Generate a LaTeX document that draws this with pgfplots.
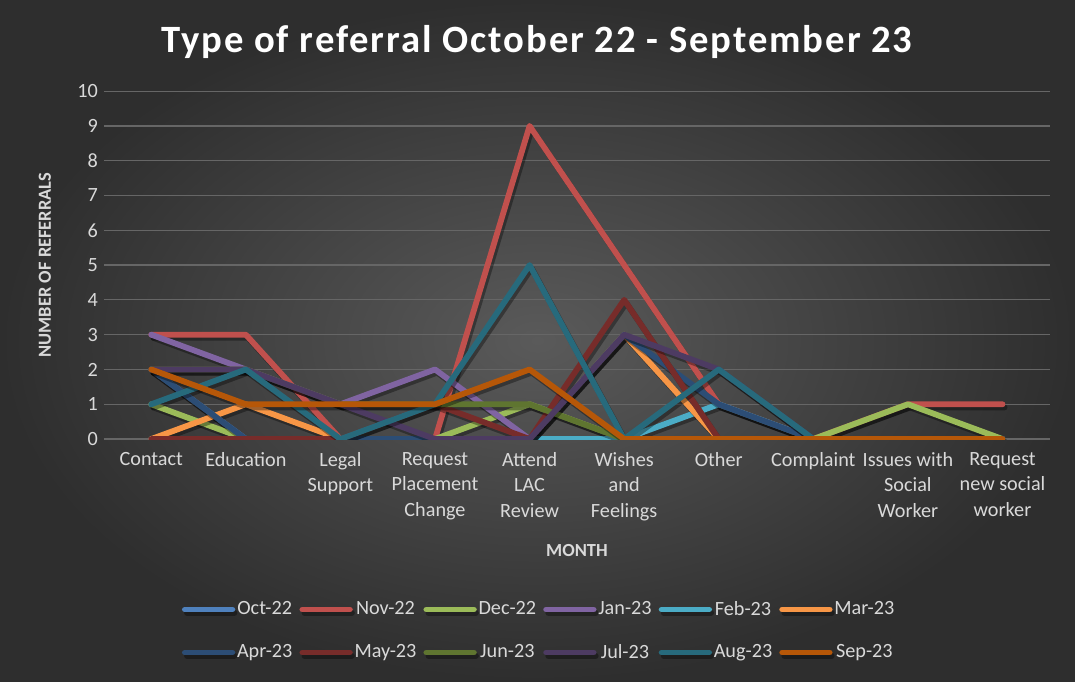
\documentclass[border=0pt]{standalone}
\usepackage{fontspec}
\setmainfont{Carlito}
\usepackage{pgfplots}
\usepackage{pgfplotstable}
\pgfplotsset{compat=1.18}

\definecolor{bgin}{HTML}{5A5A5A}
\definecolor{bgout}{HTML}{2E2E2E}
\definecolor{txt}{HTML}{D9D9D9}
\definecolor{gridc}{HTML}{666666}
\definecolor{c1}{HTML}{4F81BD}
\definecolor{c2}{HTML}{C0504D}
\definecolor{c3}{HTML}{9BBB59}
\definecolor{c4}{HTML}{8064A2}
\definecolor{c5}{HTML}{4BACC6}
\definecolor{c6}{HTML}{F79646}
\definecolor{c7}{HTML}{2C4D75}
\definecolor{c8}{HTML}{772C2A}
\definecolor{c9}{HTML}{5F7530}
\definecolor{c10}{HTML}{4D3B62}
\definecolor{c11}{HTML}{276A7C}
\definecolor{c12}{HTML}{B65708}

% one row per referral type, one column per month
\pgfplotstableread{
x oct nov dec jan feb mar apr may jun jul aug sep
0 2 3 1 3 0 0 2 0 2 2 1 2
1 0 3 0 2 0 1 0 0 2 2 2 1
2 0 0 0 1 0 0 0 0 1 1 0 1
3 0 0 0 2 0 0 0 1 1 0 1 1
4 0 9 1 0 0 0 0 0 1 0 5 2
5 0 5 0 0 0 3 3 4 0 3 0 0
6 0 1 0 0 1 0 1 0 0 2 2 0
7 0 0 0 0 0 0 0 0 0 0 0 0
8 0 1 1 0 0 0 0 0 0 0 0 0
9 0 1 0 0 0 0 0 0 0 0 0 0
}\data

\begin{document}
\begin{tikzpicture}[x=0.02cm,y=0.02cm]
\shade[inner color=bgin, outer color=bgout] (0,0) rectangle (1075,681);
\path[use as bounding box] (0,0) rectangle (1075,681);
\node[text=white, font=\fontsize{22}{26}\selectfont\bfseries\addfontfeatures{LetterSpace=5}] at (537,639) {Type of referral October 22 - September 23};
\node[text=txt, rotate=90, font=\fontsize{10.5}{12}\selectfont\bfseries] at (45,416) {NUMBER OF REFERRALS};
\node[text=txt, font=\fontsize{10.5}{12}\selectfont\bfseries] at (577,130) {MONTH};
\begin{axis}[
    at={(2.08cm,4.84cm)}, anchor=south west,
    scale only axis,
    width=18.92cm, height=6.96cm,
    xmin=-0.5, xmax=9.5,
    ymin=0, ymax=10,
    axis line style={draw=none},
    ytick={0,1,...,10},
    xtick={0,1,...,9},
    xticklabels={Contact, Education, Legal\\Support, Request\\Placement\\Change, Attend\\LAC\\Review, Wishes\\and\\Feelings, Other, Complaint, Issues with\\Social\\Worker, Request\\new social\\worker},
    xticklabel style={align=center, text=txt, font=\fontsize{11.5}{14.5}\selectfont, anchor=north, yshift=-4pt},
    yticklabel style={text=txt, font=\fontsize{11.5}{14}\selectfont},
    /pgf/number format/assume math mode=true,
    major tick length=0pt,
    ymajorgrids=true,
    grid style={gridc, line width=0.7pt},
    every axis plot/.append style={line width=3.3pt, line join=round, line cap=round, mark=none,
        preaction={draw=black, draw opacity=0.35, line width=3.3pt,
            transform canvas={xshift=1.2pt, yshift=-1.8pt}}},
    legend columns=6,
    legend style={at={(0.46,-0.455)}, anchor=north, draw=none, fill=none, text=txt,
        font=\fontsize{11.5}{13}\selectfont, row sep=11pt, inner sep=0pt,
        nodes={inner xsep=1pt},
        /tikz/every even column/.append style={column sep=3pt}},
    legend image code/.code={\draw[#1, preaction={draw=none}, line width=3.3pt, line cap=round] (0cm,0cm) -- (0.95cm,0cm);},
]
\addplot[c1] table[x=x, y=oct] {\data}; \addlegendentry{Oct-22}
\addplot[c2] table[x=x, y=nov] {\data}; \addlegendentry{Nov-22}
\addplot[c3] table[x=x, y=dec] {\data}; \addlegendentry{Dec-22}
\addplot[c4] table[x=x, y=jan] {\data}; \addlegendentry{Jan-23}
\addplot[c5] table[x=x, y=feb] {\data}; \addlegendentry{Feb-23}
\addplot[c6] table[x=x, y=mar] {\data}; \addlegendentry{Mar-23}
\addplot[c7] table[x=x, y=apr] {\data}; \addlegendentry{Apr-23}
\addplot[c8] table[x=x, y=may] {\data}; \addlegendentry{May-23}
\addplot[c9] table[x=x, y=jun] {\data}; \addlegendentry{Jun-23}
\addplot[c10] table[x=x, y=jul] {\data}; \addlegendentry{Jul-23}
\addplot[c11] table[x=x, y=aug] {\data}; \addlegendentry{Aug-23}
\addplot[c12] table[x=x, y=sep] {\data}; \addlegendentry{Sep-23}
\end{axis}
\end{tikzpicture}
\end{document}
